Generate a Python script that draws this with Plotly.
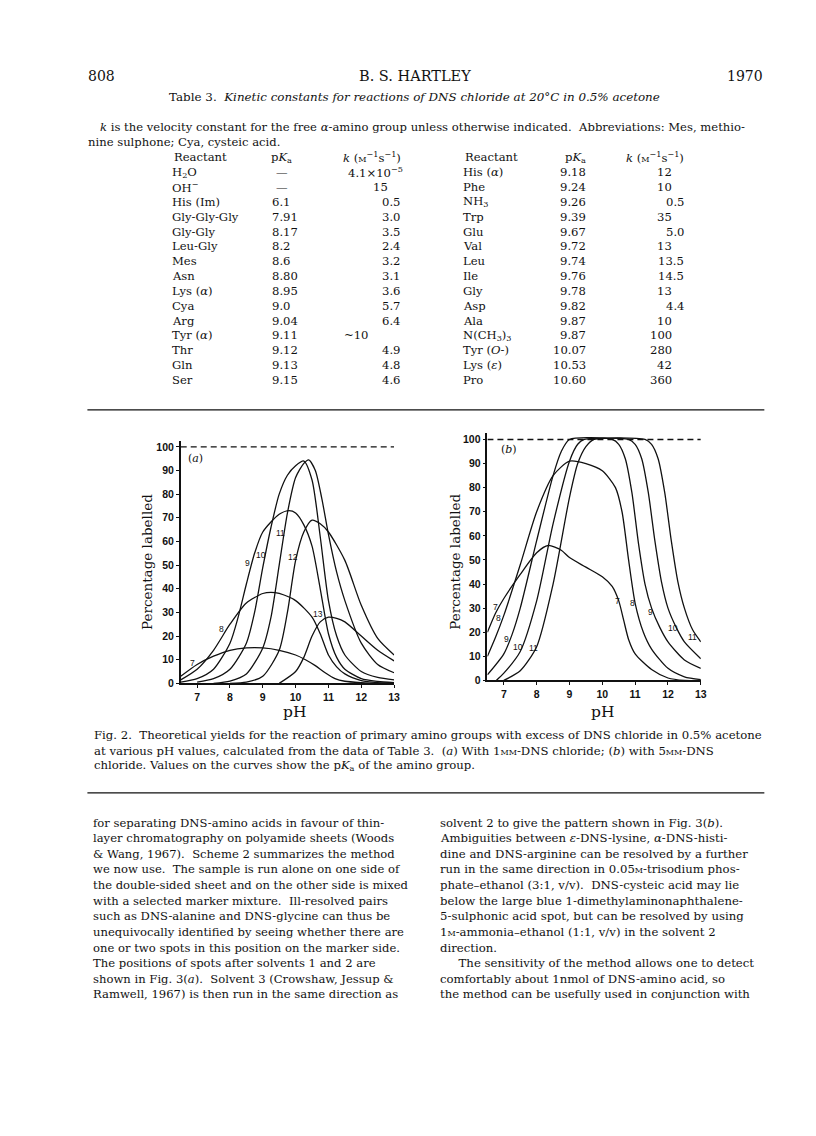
import plotly.graph_objects as go

# page size and the 8px body margin that the html page adds
W, H = 816, 1136
OX, OY = 8, 8
FW, FH = W - OX, H - OY
INK = "#111111"
SERIF = "DejaVu Serif"
SANS = "Liberation Sans"

# ---------------- Table 3 ----------------
left_reactant = ["H<sub>2</sub>O", "OH<sup>−</sup>", "His (Im)", "Gly-Gly-Gly", "Gly-Gly", "Leu-Gly",
                 "Mes", "Asn", "Lys (<i>α</i>)", "Cya", "Arg", "Tyr (<i>α</i>)", "Thr", "Gln", "Ser"]
left_pka = ["—", "—", "6.1", "7.91", "8.17", "8.2", "8.6", "8.80", "8.95", "9.0", "9.04", "9.11",
            "9.12", "9.13", "9.15"]
left_k = ["4.1×10<sup>−5</sup>", "15", "0.5", "3.0", "3.5", "2.4", "3.2", "3.1", "3.6", "5.7", "6.4",
          "~10", "4.9", "4.8", "4.6"]
right_reactant = ["His (<i>α</i>)", "Phe", "NH<sub>3</sub>", "Trp", "Glu", "Val", "Leu", "Ile", "Gly",
                  "Asp", "Ala", "N(CH<sub>3</sub>)<sub>3</sub>", "Tyr (<i>O</i>-)", "Lys (<i>ε</i>)", "Pro"]
right_pka = ["9.18", "9.24", "9.26", "9.39", "9.67", "9.72", "9.74", "9.76", "9.78", "9.82", "9.87",
             "9.87", "10.07", "10.53", "10.60"]
right_k = ["12", "10", "0.5", "35", "5.0", "13", "13.5", "14.5", "13", "4.4", "10", "100", "280",
           "42", "360"]

# ---------------- Fig. 2(a): 1 mM DNS chloride ----------------
a7_ph = [6.5, 7.0, 7.5, 8.0, 8.5, 9.0, 9.5, 10.0, 10.3, 10.6, 10.9, 11.2, 11.5, 12.0, 12.5, 13.0]
a7_pct = [3.0, 8.0, 11.5, 14.0, 15.0, 15.0, 14.0, 12.0, 10.0, 7.5, 4.5, 2.0, 0.9, 0.3, 0.0, 0.0]
a8_ph = [6.5, 7.0, 7.5, 8.0, 8.5, 9.0, 9.25, 9.5, 10.0, 10.5, 10.75, 11.0, 11.25, 11.5, 12.0, 12.5, 13.0]
a8_pct = [1.5, 6.0, 14.0, 25.0, 34.0, 38.0, 38.5, 38.0, 35.0, 28.0, 21.0, 12.0, 7.0, 4.0, 1.2, 0.3, 0.0]
a9_ph = [6.5, 7.0, 7.5, 8.0, 8.25, 8.5, 8.75, 9.0, 9.5, 9.8, 10.0, 10.25, 10.5, 10.75, 11.0, 11.25,
         11.5, 12.0, 12.5, 13.0]
a9_pct = [0.5, 2.0, 6.0, 17.0, 28.0, 42.0, 55.0, 64.0, 71.5, 73.0, 72.0, 67.0, 58.0, 40.0, 21.0, 11.0,
          6.0, 2.0, 0.8, 0.3]
a10_ph = [7.0, 7.5, 8.0, 8.5, 8.75, 9.0, 9.25, 9.5, 9.75, 10.0, 10.25, 10.5, 10.75, 11.0, 11.25, 11.5,
          12.0, 12.5, 13.0]
a10_pct = [0.5, 2.0, 6.0, 17.0, 30.0, 49.0, 66.0, 80.0, 88.0, 92.0, 94.0, 86.0, 62.0, 35.0, 20.0, 12.0,
           5.0, 2.5, 1.5]
a11_ph = [7.5, 8.0, 8.5, 9.0, 9.25, 9.5, 9.75, 10.0, 10.25, 10.4, 10.6, 10.8, 11.0, 11.25, 11.5, 12.0,
          12.5, 13.0]
a11_pct = [0.0, 1.0, 4.0, 15.0, 28.0, 50.0, 72.0, 87.0, 93.0, 94.5, 90.0, 78.0, 63.0, 47.0, 35.0, 17.0,
           8.0, 4.5]
a12_ph = [8.0, 8.5, 9.0, 9.5, 9.75, 10.0, 10.25, 10.5, 10.75, 11.0, 11.5, 12.0, 12.5, 13.0]
a12_pct = [0.0, 0.5, 3.0, 14.0, 30.0, 52.0, 64.0, 69.0, 67.5, 64.0, 52.0, 33.0, 19.0, 12.0]
a13_ph = [9.5, 10.0, 10.25, 10.5, 10.75, 11.0, 11.25, 11.5, 12.0, 12.5, 13.0]
a13_pct = [0.0, 5.0, 11.0, 20.0, 26.0, 28.0, 27.5, 26.0, 20.0, 14.0, 9.5]

a_curves = [(a7_ph, a7_pct), (a8_ph, a8_pct), (a9_ph, a9_pct), (a10_ph, a10_pct),
            (a11_ph, a11_pct), (a12_ph, a12_pct), (a13_ph, a13_pct)]
a_label = ["7", "8", "9", "10", "11", "12", "13"]
a_label_ph = [6.85, 7.73, 8.54, 8.95, 9.54, 9.92, 10.69]
a_label_pct = [8.7, 23.2, 51.0, 54.4, 63.6, 53.4, 29.2]

# ---------------- Fig. 2(b): 5 mM DNS chloride ----------------
b7_ph = [6.5, 6.75, 7.0, 7.5, 8.0, 8.35, 8.75, 9.0, 9.5, 10.0, 10.3, 10.5, 10.65, 10.8, 11.0, 11.5,
         12.0, 12.5, 13.0]
b7_pct = [20.0, 28.0, 34.0, 44.0, 53.0, 56.0, 54.0, 51.0, 47.0, 43.0, 39.0, 33.0, 25.0, 17.0, 11.0,
          4.5, 1.0, 0.0, 0.0]
b8_ph = [6.5, 6.75, 7.0, 7.5, 8.0, 8.5, 9.0, 9.5, 10.0, 10.4, 10.6, 10.8, 11.0, 11.25, 11.5, 12.0,
         12.5, 13.0]
b8_pct = [10.0, 18.0, 27.0, 48.0, 70.0, 85.0, 91.0, 90.0, 87.0, 80.0, 70.0, 50.0, 32.0, 20.0, 13.0,
          5.0, 1.5, 0.3]
b9_ph = [6.5, 7.0, 7.25, 7.5, 8.0, 8.5, 8.75, 9.0, 10.3, 10.5, 10.7, 10.9, 11.1, 11.3, 11.5, 11.75,
         12.0, 12.5, 13.0]
b9_pct = [2.3, 11.0, 19.0, 30.0, 58.0, 85.0, 95.0, 100.0, 100.0, 98.0, 92.0, 78.0, 57.0, 40.0, 30.0,
          22.0, 16.0, 8.5, 5.0]
b10_ph = [6.77, 7.0, 7.5, 8.0, 8.5, 9.0, 9.25, 9.45, 10.8, 11.0, 11.2, 11.4, 11.6, 11.8, 12.0, 12.25,
          12.5, 13.0]
b10_pct = [0.0, 3.0, 12.0, 33.0, 65.0, 91.0, 98.0, 100.0, 100.0, 98.0, 92.0, 78.0, 58.0, 41.0, 30.0,
           22.0, 16.0, 9.0]
b11_ph = [7.0, 7.5, 8.0, 8.5, 9.0, 9.25, 9.5, 9.75, 11.3, 11.5, 11.7, 11.9, 12.1, 12.3, 12.5, 12.75,
          13.0]
b11_pct = [0.0, 4.0, 14.0, 40.0, 76.0, 90.0, 97.0, 100.0, 100.0, 98.0, 92.0, 78.0, 58.0, 41.0, 30.0,
           21.0, 16.0]

b_curves = [(b7_ph, b7_pct), (b8_ph, b8_pct), (b9_ph, b9_pct), (b10_ph, b10_pct), (b11_ph, b11_pct)]
b_label = ["7", "8", "9", "10", "11", "7", "8", "9", "10", "11"]
b_label_ph = [6.75, 6.85, 7.09, 7.42, 7.9, 10.45, 10.91, 11.46, 12.15, 12.75]
b_label_pct = [30.5, 25.7, 17.1, 14.0, 13.3, 33.0, 32.2, 28.5, 21.6, 18.2]

# ---------------- running text ----------------
caption_lines = [
    "Fig. 2.  Theoretical yields for the reaction of primary amino groups with excess of DNS chloride in 0.5% acetone",
    "at various pH values, calculated from the data of Table 3.  (<i>a</i>) With 1<span style='font-size:8px'>MM</span>-DNS chloride; (<i>b</i>) with 5<span style='font-size:8px'>MM</span>-DNS",
    "chloride. Values on the curves show the p<i>K</i><sub>a</sub> of the amino group.",
]
left_col = [
    "for separating DNS-amino acids in favour of thin-",
    "layer chromatography on polyamide sheets (Woods",
    "&amp; Wang, 1967).  Scheme 2 summarizes the method",
    "we now use.  The sample is run alone on one side of",
    "the double-sided sheet and on the other side is mixed",
    "with a selected marker mixture.  Ill-resolved pairs",
    "such as DNS-alanine and DNS-glycine can thus be",
    "unequivocally identified by seeing whether there are",
    "one or two spots in this position on the marker side.",
    "The positions of spots after solvents 1 and 2 are",
    "shown in Fig. 3(<i>a</i>).  Solvent 3 (Crowshaw, Jessup &amp;",
    "Ramwell, 1967) is then run in the same direction as",
]
right_col = [
    "solvent 2 to give the pattern shown in Fig. 3(<i>b</i>).",
    "Ambiguities between <i>ε</i>-DNS-lysine, <i>α</i>-DNS-histi-",
    "dine and DNS-arginine can be resolved by a further",
    "run in the same direction in 0.05<span style='font-size:8px'>M</span>-trisodium phos-",
    "phate–ethanol (3:1, v/v).  DNS-cysteic acid may lie",
    "below the large blue 1-dimethylaminonaphthalene-",
    "5-sulphonic acid spot, but can be resolved by using",
    "1<span style='font-size:8px'>M</span>-ammonia–ethanol (1:1, v/v) in the solvent 2",
    "direction.",
    "     The sensitivity of the method allows one to detect",
    "comfortably about 1nmol of DNS-amino acid, so",
    "the method can be usefully used in conjunction with",
]

fig = go.Figure()
ann = []


def px(x):
    return (x - OX) / FW


def py(y):
    return 1 - (y - OY) / FH


def text(x, y, s, size=12, xanchor="left", family=SERIF, weight="normal", xref="paper", yref="paper",
         angle=0):
    if xref == "paper":
        x = px(x)
    if yref == "paper":
        y = py(y)
    ann.append(dict(x=x, y=y, xref=xref, yref=yref, text=s, showarrow=False, xanchor=xanchor,
                    yanchor="middle", textangle=angle, borderpad=0,
                    font=dict(family=family, size=size, color=INK, weight=weight)))


# header
text(88, 76, "808", 14)
text(418, 76, "B. S. HARTLEY", 14.5, "center")
text(770, 76, "1970", 14, "right")
text(418, 97, "Table 3.  <i>Kinetic constants for reactions of DNS chloride at 20°C in 0.5% acetone</i>",
     11.9, "center")
text(100, 128, "<i>k</i> is the velocity constant for the free <i>α</i>-amino group unless otherwise indicated.  "
     "Abbreviations: Mes, methio-", 11.6)
text(88, 143, "nine sulphone; Cya, cysteic acid.", 11.6)

# table
ks = "<i>k</i> (<span style='font-size:8px'>M</span><sup>−1</sup>s<sup>−1</sup>)"
row0 = 158
TS = 11.6
text(174, row0, "Reactant", TS)
text(272, row0, "p<i>K</i><sub>a</sub>", TS)
text(375, row0, ks, TS, "center")
text(467, row0, "Reactant", TS)
text(568, row0, "p<i>K</i><sub>a</sub>", TS)
text(660, row0, ks, TS, "center")
for i in range(len(left_reactant)):
    yy = 173 + 14.93 * i
    text(172, yy, left_reactant[i], TS)
    text(273 if left_pka[i] != "—" else 277, yy, left_pka[i], TS)
    kv = left_k[i]
    if i == 0:
        text(407, yy, kv, TS, "right")
    elif kv.startswith("~"):
        text(346, yy, kv, TS)
    elif "." in kv:
        text(404, yy, kv, TS, "right")
    else:
        text(392, yy, kv, TS, "right")
    text(465, yy, right_reactant[i], TS)
    text(591, yy, right_pka[i], TS, "right")
    kv = right_k[i]
    text(690 if "." in kv else 678, yy, kv, TS, "right")

# rules
shapes = [
    dict(type="line", xref="paper", yref="paper", x0=px(88), x1=px(770), y0=py(412), y1=py(412),
         line=dict(color=INK, width=1.2)),
    dict(type="line", xref="paper", yref="paper", x0=px(88), x1=px(770), y0=py(797), y1=py(797),
         line=dict(color=INK, width=1.2)),
]

# caption and body
for i, s in enumerate(caption_lines):
    text(94, 739 + 15.5 * i, s, 11.7)
for i, s in enumerate(left_col):
    text(93, 827 + 15.7 * i, s, 11.6)
for i, s in enumerate(right_col):
    text(442, 827 + 15.7 * i, s, 11.7)

# ---------------- curves ----------------
line = dict(color=INK, width=1.3, shape="spline", smoothing=0.7)
for xs, ys in a_curves:
    fig.add_trace(go.Scatter(x=xs, y=ys, mode="lines", line=line, xaxis="x", yaxis="y",
                             hoverinfo="skip", showlegend=False))
for xs, ys in b_curves:
    fig.add_trace(go.Scatter(x=xs, y=ys, mode="lines", line=line, xaxis="x2", yaxis="y2",
                             hoverinfo="skip", showlegend=False))
for xa, ya in (("x", "y"), ("x2", "y2")):
    fig.add_trace(go.Scatter(x=[6.5, 13], y=[100, 100], mode="lines", xaxis=xa, yaxis=ya,
                             line=dict(color=INK, width=1.4, dash="6px,4px"), hoverinfo="skip",
                             showlegend=False))

for s, xx, yy in zip(a_label, a_label_ph, a_label_pct):
    text(xx, yy, s, 8.5, "center", SANS, xref="x", yref="y")
for s, xx, yy in zip(b_label, b_label_ph, b_label_pct):
    text(xx, yy, s, 8.5, "center", SANS, xref="x2", yref="y2")
text(6.95, 95, "(<i>a</i>)", 11, "center", xref="x", yref="y")
text(7.17, 95.7, "(<i>b</i>)", 11, "center", xref="x2", yref="y2")

# axis titles
text(148, 565, "Percentage labelled", 13.5, "center", angle=-90)
text(458, 565, "Percentage labelled", 13.5, "center", angle=-90)
text(297, 716, "pH", 15.5, "center")
text(607, 716, "pH", 15.5, "center")

tick_font = dict(family=SANS, size=10.5, color=INK, weight="bold")
common_x = dict(range=[6.5, 13], tickvals=[7, 8, 9, 10, 11, 12, 13], ticks="outside", ticklen=3,
                tickwidth=1, tickcolor=INK, showline=True, linecolor=INK, linewidth=1.5, showgrid=False,
                zeroline=False, tickfont=tick_font, fixedrange=True)
common_y = dict(tickvals=list(range(0, 101, 10)), ticks="outside", ticklen=3, tickwidth=1, tickcolor=INK,
                showline=True, linecolor=INK, linewidth=1.5, showgrid=False, zeroline=False,
                tickfont=tick_font, fixedrange=True)

fig.update_layout(
    width=FW, height=FH, margin=dict(l=0, r=0, t=0, b=0),
    paper_bgcolor="white", plot_bgcolor="white", showlegend=False,
    xaxis=dict(common_x, domain=[px(182), px(397)], anchor="y"),
    yaxis=dict(common_y, domain=[py(687), py(443)], range=[0, 102.6], anchor="x"),
    xaxis2=dict(common_x, domain=[px(491), px(706)], anchor="y2"),
    yaxis2=dict(common_y, domain=[py(684), py(435)], range=[0, 102.8], anchor="x2"),
    annotations=ann, shapes=shapes,
)

fig.write_html("out.html")
